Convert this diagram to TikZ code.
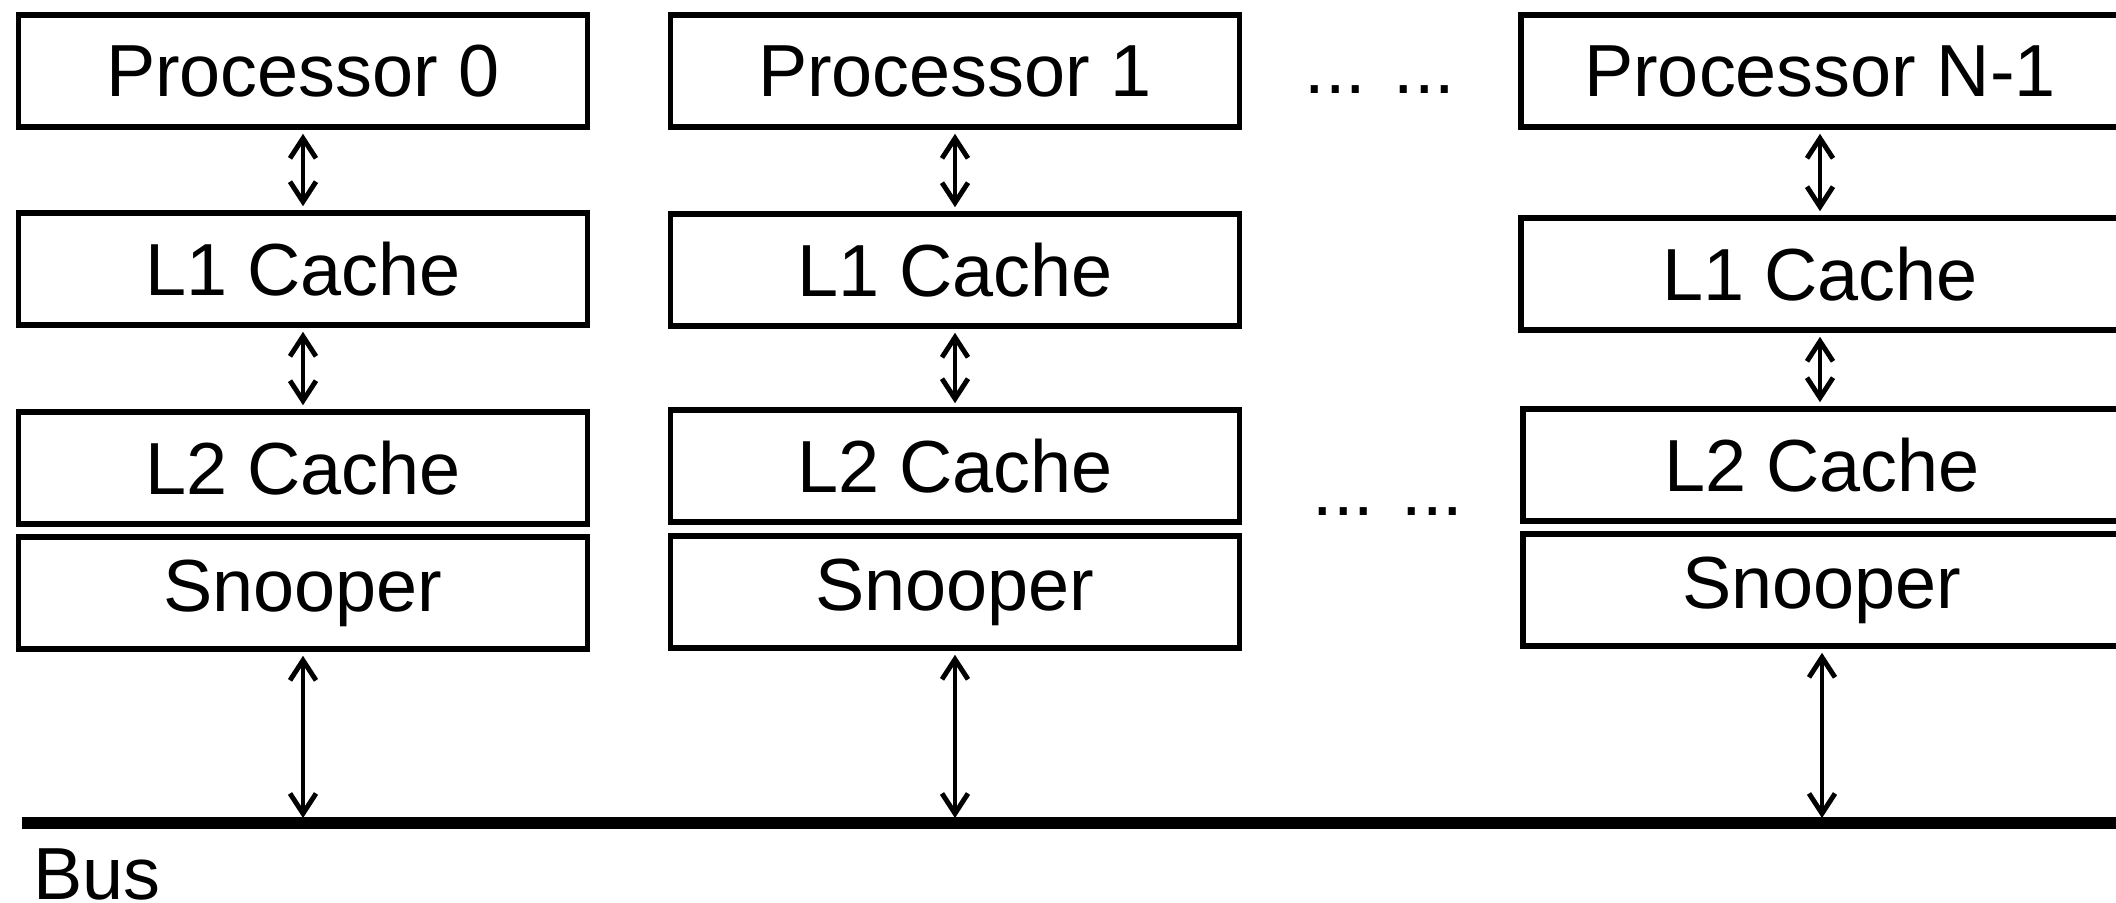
\documentclass[tikz,border=0pt]{standalone}
\usepackage{fontspec}
\setmainfont{Liberation Sans}
\usepackage{tikz}
\usetikzlibrary{arrows.meta, positioning}

\begin{document}
\begin{tikzpicture}
  [
    x=0.1mm, y=-0.1mm,
    Box/.style={rectangle, draw=black, line width=1.6pt, minimum width=5.69cm, minimum height=1.12cm, inner sep=0pt, font=\fontsize{21}{25}\selectfont},
    Wide/.style={Box, minimum width=5.98cm},
    Dots/.style={anchor=base, font=\fontsize{21}{25}\selectfont},
    Link/.style={{Straight Barb[length=2mm, width=2.6mm, line width=1.4pt]}-{Straight Barb[length=2mm, width=2.6mm, line width=1.4pt]}, line width=1.2pt, shorten <=0.4mm, shorten >=0.4mm}
  ]
  \useasboundingbox (0,0) rectangle (2116,902);
  % Nodes
  \node[Box] (pr0) at (303, 71) {Processor 0};
  \node[Box] (ca0) at (303, 269) {L1 Cache};
  \node[Box] (cb0) at (303, 468) {L2 Cache};
  \node[Box] (sn0) at (303, 593) {Snooper};

  \node[Box] (pr1) at (955, 71) {Processor 1};
  \node[Box] (ca1) at (955, 270) {L1 Cache};
  \node[Box] (cb1) at (955, 466) {L2 Cache};
  \node[Box] (sn1) at (955, 592) {Snooper};

  \node[Wide] (pr2) at (1820, 71) {Processor N-1};
  \node[Wide] (ca2) at (1820, 274) {L1 Cache};
  \node[Wide] (cb2) at (1822, 465) {L2 Cache};
  \node[Wide] (sn2) at (1822, 590) {Snooper};

  \node[Dots] (dt0) at (1380, 93) {... ...};
  \node[Dots] (dt1) at (1388, 515) {... ...};

  \coordinate (busL) at (22, 823);
  \coordinate (busR) at (2130, 823);
  \node[anchor=base west, inner sep=0pt, font=\fontsize{21}{25}\selectfont] (bus) at (33, 899) {Bus};
  % Lines
  \draw[line width=3.4pt] (busL) -- (busR);
  \foreach \i in {0,1,2} {
    \path[Link, draw] (pr\i.south) -- (ca\i.north);
    \path[Link, draw] (ca\i.south) -- (ca\i.south |- cb\i.north);
    \path[Link, draw, shorten >=0.5mm] (sn\i.south) -- (sn\i.south |- busL);
  }
\end{tikzpicture}
\end{document}
